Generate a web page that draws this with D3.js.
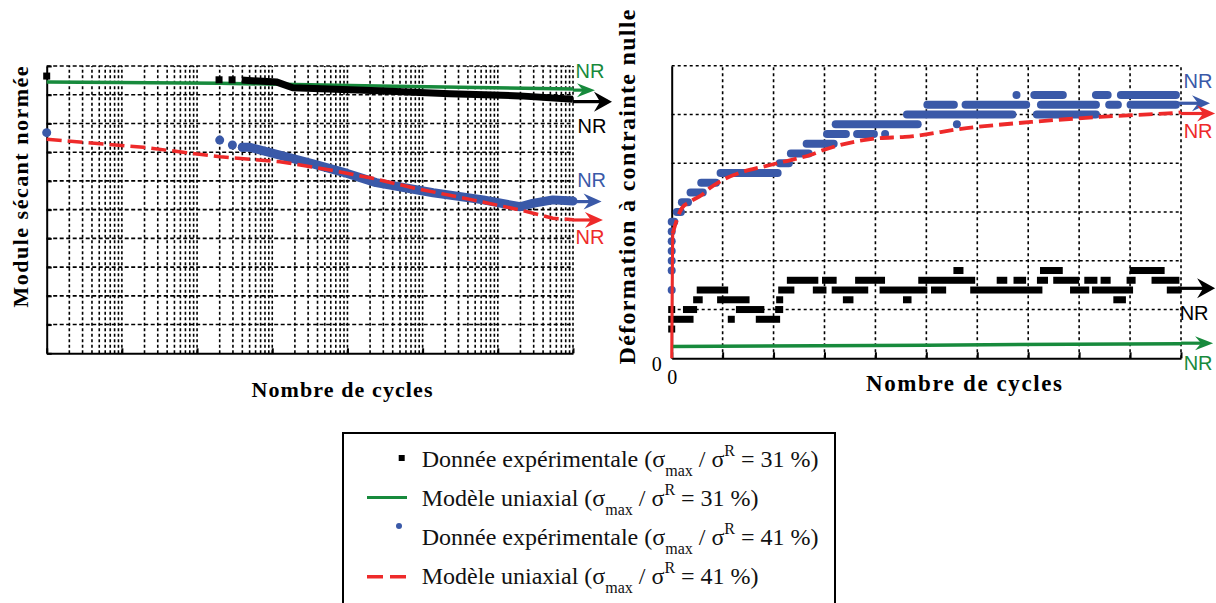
<!DOCTYPE html>
<html><head><meta charset="utf-8">
<script src="https://cdn.jsdelivr.net/npm/d3@7"></script>
<style>body{margin:0;background:#fff;} svg{display:block;}</style>
</head><body>
<script>
// ---------------- DATA ----------------
// Left chart: normalised secant modulus vs number of cycles (log)
const leftGreenCycles = [1, 200, 25700, 1e7];
const leftGreenValues = [0.944, 0.940, 0.930, 0.920];
const leftBlackIsoCycles = [1, 196, 292];
const leftBlackIsoValues = [0.965, 0.952, 0.952];
const leftBlackCycles = [392, 1150, 1880, 25700, 230000, 1.96e6, 1e7];
const leftBlackValues = [0.951, 0.944, 0.924, 0.914, 0.903, 0.896, 0.884];
const leftBlueIsoCycles = [1, 200, 295, 400];
const leftBlueIsoValues = [0.768, 0.742, 0.725, 0.717];
const leftBlueCycles = [400, 505, 1260, 3480, 9700, 24000, 138000, 640000, 1.98e6, 2.9e6, 5.4e6, 1e7];
const leftBlueValues = [0.717, 0.717, 0.690, 0.659, 0.627, 0.594, 0.559, 0.534, 0.510, 0.522, 0.534, 0.530];
const leftRedCycles = [1, 19.3, 203, 1260, 5900, 21700, 81000, 460000, 1.98e6, 5.4e6, 1e7];
const leftRedValues = [0.745, 0.717, 0.684, 0.667, 0.638, 0.609, 0.574, 0.534, 0.499, 0.470, 0.465];
// arrows "NR" (non rompu): [startCycle, tipCycle, value]
const leftGreenArrow = [1e7, 1.96e7, 0.916];
const leftBlackArrow = [1e7, 3.3e7, 0.876];
const leftBlueArrow = [1e7, 2.4e7, 0.528];
const leftRedArrow = [1e7, 2.5e7, 0.464];

// Right chart: residual strain vs number of cycles (linear, arbitrary units)
const rightGreenX = [0, 5, 10];
const rightGreenY = [0.24, 0.27, 0.30];
const rightRedX = [0, 0.01, 0.02, 0.1, 0.2, 0.36, 0.59, 0.75, 1.01, 1.41, 1.8, 2.19, 2.72, 2.98, 4.03, 4.58, 5.79, 7.1, 8.41, 9.85, 10];
const rightRedY = [0, 1.5, 2.56, 2.84, 3.08, 3.21, 3.35, 3.49, 3.66, 3.83, 3.93, 4.03, 4.17, 4.27, 4.51, 4.54, 4.72, 4.85, 4.95, 5.03, 5.04];
// experimental runs of overlapping markers: [startX, endX, level]
const rightBlackRuns = [
  [5.6,5.66,1.8],[7.3,7.61,1.8],[9.06,9.61,1.8],
  [2.33,2.81,1.6],[3.02,3.17,1.6],[3.67,4.12,1.6],[4.91,5.89,1.6],[6.45,6.52,1.6],[6.78,6.89,1.6],[7.24,7.32,1.6],[7.56,7.93,1.6],[8.17,8.29,1.6],[8.49,8.55,1.6],[9.0,9.04,1.6],[9.49,9.9,1.6],
  [0.56,1.04,1.4],[2.16,2.34,1.4],[2.84,2.97,1.4],[3.21,3.79,1.4],[4.15,4.95,1.4],[5.16,5.32,1.4],[5.93,7.21,1.4],[7.89,8.13,1.4],[8.32,8.99,1.4],[9.79,9.94,1.4],
  [0.49,0.54,1.2],[0.96,1.46,1.2],[2.12,2.12,1.2],[3.43,3.5,1.2],[4.61,4.64,1.2],[8.74,8.85,1.2],
  [0,0,1.0],[0.29,0.43,1.0],[1.33,1.75,1.0],[2.1,2.12,1.0],
  [0,0.36,0.8],[1.17,1.17,0.8],[1.72,2.06,0.8],
  [0,0,0.6]
];
const rightBlueRuns = [
  [0,0,1.4],[0,0,1.8],[0,0,2.0],[0,0,2.2],[0,0,2.4],[0,0,2.6],[0,0.05,2.8],
  [0.1,0.18,3.0],[0.2,0.32,3.2],[0.37,0.61,3.4],[0.58,0.87,3.6],[0.96,2.08,3.8],
  [2.12,2.3,4.0],[2.34,2.69,4.2],[2.65,3.18,4.4],
  [3.05,3.42,4.6],[3.64,3.97,4.6],[4.19,4.19,4.6],
  [3.22,4.83,4.8],[5.6,5.6,4.8],
  [4.62,6.69,5.0],[7.17,8.33,5.0],
  [5.02,5.54,5.2],[5.77,6.96,5.2],[7.25,8.33,5.2],[8.59,8.76,5.2],[9.01,9.9,5.2],
  [6.77,6.77,5.4],[7.12,7.68,5.4],[8.33,8.56,5.4],[8.82,9.9,5.4]
];
const rightGreenArrow = [10, 10.63, 0.31];
const rightBlackArrow = [9.94, 10.67, 1.435];
const rightBlueArrow = [9.9, 10.57, 5.23];
const rightRedArrow = [10, 10.67, 5.02];

const rightXTickLabels = ["0"];
const rightYTickLabels = ["0"];
const nrLabel = "NR";
const yTitleLeft = "Module sécant normée";
const yTitleRight = "Déformation à contrainte nulle";
const xTitle = "Nombre de cycles";
const legendLabels = ["Donnée expérimentale", "Modèle uniaxial", "Donnée expérimentale", "Modèle uniaxial"];
const legendRatios = ["31", "31", "41", "41"];
const legendKinds = ["square", "line", "dot", "dash"];

// ---------------- STYLE ----------------
const C = {green:"#178a3c", black:"#000", blue:"#3a59a8", red:"#ee2a2a"};
const serif = "'Liberation Serif','Times New Roman',serif";
const sans = "'Liberation Sans','Noto Sans',Arial,sans-serif";

const svg = d3.select("body").append("svg").attr("width",1216).attr("height",603);

function arrow(g, x1, x2, y, color, hw) {
  g.append("line").attr("x1",x1).attr("x2",x2-11).attr("y1",y).attr("y2",y)
    .attr("stroke",color).attr("stroke-width",3.2);
  g.append("path").attr("d",`M${x2},${y} L${x2-18},${y-hw} L${x2-12},${y} L${x2-18},${y+hw} Z`)
    .attr("fill",color);
}
function nr(g, x, y, color) {
  g.append("text").attr("x",x).attr("y",y).attr("text-anchor","middle")
    .attr("font-family",sans).attr("font-size",20).attr("fill",color).text(nrLabel);
}

// ---------------- LEFT CHART ----------------
const xL = d3.scaleLog().domain([1,1e7]).range([46.7,573]);
const yL = d3.scaleLinear().domain([0,1]).range([353.3,66]);
const gL = svg.append("g");
xL.ticks().forEach(t => {
  if (t === 1) return;
  gL.append("line").attr("x1",xL(t)).attr("x2",xL(t)).attr("y1",yL(0)).attr("y2",yL(1))
    .attr("stroke","#000").attr("stroke-width",1.6).attr("stroke-dasharray","3,2.5");
});
yL.ticks(10).forEach(t => {
  if (t === 0) return;
  gL.append("line").attr("x1",xL(1)).attr("x2",xL(1e7)).attr("y1",yL(t)).attr("y2",yL(t))
    .attr("stroke","#000").attr("stroke-width",1.6).attr("stroke-dasharray","4,2.5");
});
const axL = gL.append("g").attr("transform",`translate(${xL(1)},0)`)
  .call(d3.axisLeft(yL).ticks(10).tickSize(-5).tickSizeOuter(0).tickFormat(""));
const axB = gL.append("g").attr("transform",`translate(0,${yL(0)})`)
  .call(d3.axisBottom(xL).tickValues([1,10,100,1e3,1e4,1e5,1e6,1e7]).tickSize(-5).tickSizeOuter(0).tickFormat(""));
[axL, axB].forEach(a => { a.selectAll("path,line").attr("stroke","#000").attr("stroke-width",2); });

// green model
gL.append("path").attr("d", d3.line().x(d=>xL(d[0])).y(d=>yL(d[1]))(d3.zip(leftGreenCycles,leftGreenValues)))
  .attr("fill","none").attr("stroke",C.green).attr("stroke-width",3.5);
// black experimental
gL.append("path").attr("d", d3.line().x(d=>xL(d[0])).y(d=>yL(d[1]))(d3.zip(leftBlackCycles,leftBlackValues)))
  .attr("fill","none").attr("stroke",C.black).attr("stroke-width",7);
d3.zip(leftBlackIsoCycles,leftBlackIsoValues).forEach(d => {
  gL.append("rect").attr("x",xL(d[0])-3.5).attr("y",yL(d[1])-3.5).attr("width",7).attr("height",7).attr("fill",C.black);
});
// blue experimental
gL.append("path").attr("d", d3.line().x(d=>xL(d[0])).y(d=>yL(d[1]))(d3.zip(leftBlueCycles,leftBlueValues)))
  .attr("fill","none").attr("stroke",C.blue).attr("stroke-width",9).attr("stroke-linecap","round").attr("stroke-linejoin","round");
d3.zip(leftBlueIsoCycles,leftBlueIsoValues).forEach(d => {
  gL.append("circle").attr("cx",xL(d[0])).attr("cy",yL(d[1])).attr("r",4.5).attr("fill",C.blue);
});
// red model
gL.append("path").attr("d", d3.line().x(d=>xL(d[0])).y(d=>yL(d[1]))(d3.zip(leftRedCycles,leftRedValues)))
  .attr("fill","none").attr("stroke",C.red).attr("stroke-width",3.5).attr("stroke-dasharray","15,6");
// arrows + NR
arrow(gL, xL(leftGreenArrow[0]), xL(leftGreenArrow[1]), yL(leftGreenArrow[2]), C.green, 7);
nr(gL, xL(leftGreenArrow[1]) - 5, yL(leftGreenArrow[2]) - 12, C.green);
arrow(gL, xL(leftBlackArrow[0]), xL(leftBlackArrow[1]), yL(leftBlackArrow[2]), C.black, 10);
nr(gL, xL(leftBlackArrow[1]) - 20, yL(leftBlackArrow[2]) + 31, C.black);
arrow(gL, xL(leftBlueArrow[0]), xL(leftBlueArrow[1]), yL(leftBlueArrow[2]), C.blue, 8);
nr(gL, xL(leftBlueArrow[1]) - 10, yL(leftBlueArrow[2]) - 15, C.blue);
arrow(gL, xL(leftRedArrow[0]), xL(leftRedArrow[1]), yL(leftRedArrow[2]), C.red, 8);
nr(gL, xL(leftRedArrow[1]) - 13, yL(leftRedArrow[2]) + 24, C.red);

// titles
gL.append("text").attr("transform",`translate(28,187) rotate(-90)`).attr("text-anchor","middle")
  .attr("font-family",serif).attr("font-weight","bold").attr("font-size",22)
  .attr("textLength",241).attr("lengthAdjust","spacing").text(yTitleLeft);
gL.append("text").attr("x",342).attr("y",397).attr("text-anchor","middle")
  .attr("font-family",serif).attr("font-weight","bold").attr("font-size",22)
  .attr("textLength",181).attr("lengthAdjust","spacing").text(xTitle);

// ---------------- RIGHT CHART ----------------
const xR = d3.scaleLinear().domain([0,10]).range([671.7,1181]);
const yR = d3.scaleLinear().domain([0,6]).range([358.3,65.7]);
const gR = svg.append("g");
xR.ticks(10).forEach(t => {
  if (t === 0) return;
  gR.append("line").attr("x1",xR(t)).attr("x2",xR(t)).attr("y1",yR(0)).attr("y2",yR(6))
    .attr("stroke","#000").attr("stroke-width",1.6).attr("stroke-dasharray","3,3");
});
yR.ticks(6).forEach(t => {
  if (t === 0) return;
  gR.append("line").attr("x1",xR(0)).attr("x2",xR(10)).attr("y1",yR(t)).attr("y2",yR(t))
    .attr("stroke","#000").attr("stroke-width",1.6).attr("stroke-dasharray","3,3");
});
const axRB = gR.append("g").attr("transform",`translate(0,${yR(0)})`)
  .call(d3.axisBottom(xR).ticks(10).tickSize(-6).tickSizeOuter(0).tickPadding(12)
    .tickFormat((d,i) => i < rightXTickLabels.length ? rightXTickLabels[i] : ""));
const axRL = gR.append("g").attr("transform",`translate(${xR(0)},0)`)
  .call(d3.axisLeft(yR).ticks(6).tickSize(0).tickSizeOuter(0).tickPadding(10)
    .tickFormat((d,i) => i < rightYTickLabels.length ? rightYTickLabels[i] : ""));
[axRB, axRL].forEach(a => {
  a.selectAll("path,line").attr("stroke","#000").attr("stroke-width",2);
  a.selectAll("text").attr("font-family",serif).attr("font-size",20).attr("fill","#000");
});
axRL.selectAll("text").attr("dy","0.6em");

// green model
gR.append("path").attr("d", d3.line().x(d=>xR(d[0])).y(d=>yR(d[1]))(d3.zip(rightGreenX,rightGreenY)))
  .attr("fill","none").attr("stroke",C.green).attr("stroke-width",3.5);
// black experimental runs
rightBlackRuns.forEach(r => {
  gR.append("rect").attr("x",xR(r[0])-3.5).attr("y",yR(r[2])-3.5)
    .attr("width",xR(r[1])-xR(r[0])+7).attr("height",7).attr("fill",C.black);
});
const redPts = d3.zip(rightRedX,rightRedY);
// blue experimental runs
rightBlueRuns.forEach(r => {
  gR.append("line").attr("x1",xR(r[0])).attr("x2",xR(r[1])).attr("y1",yR(r[2])).attr("y2",yR(r[2]))
    .attr("stroke",C.blue).attr("stroke-width",8).attr("stroke-linecap","round");
});
// red model (initial rise solid, rest dashed)
gR.append("path").attr("d", d3.line().x(d=>xR(d[0])).y(d=>yR(d[1]))(redPts.slice(0,3)))
  .attr("fill","none").attr("stroke",C.red).attr("stroke-width",3);
gR.append("path").attr("d", d3.line().curve(d3.curveMonotoneX).x(d=>xR(d[0])).y(d=>yR(d[1]))(redPts.slice(2)))
  .attr("fill","none").attr("stroke",C.red).attr("stroke-width",3.8).attr("stroke-dasharray","14,6");

arrow(gR, xR(rightGreenArrow[0]), xR(rightGreenArrow[1]), yR(rightGreenArrow[2]), C.green, 7);
nr(gR, xR(rightGreenArrow[1]) - 15, yR(rightGreenArrow[2]) + 27, C.green);
arrow(gR, xR(rightBlackArrow[0]), xR(rightBlackArrow[1]), yR(rightBlackArrow[2]), C.black, 10);
nr(gR, xR(rightBlackArrow[1]) - 21, yR(rightBlackArrow[2]) + 32, C.black);
arrow(gR, xR(rightBlueArrow[0]), xR(rightBlueArrow[1]), yR(rightBlueArrow[2]), C.blue, 8);
nr(gR, xR(rightBlueArrow[1]) - 12, yR(rightBlueArrow[2]) - 15, C.blue);
arrow(gR, xR(rightRedArrow[0]), xR(rightRedArrow[1]), yR(rightRedArrow[2]), C.red, 8);
nr(gR, xR(rightRedArrow[1]) - 17, yR(rightRedArrow[2]) + 25, C.red);

gR.append("text").attr("transform",`translate(635,187) rotate(-90)`).attr("text-anchor","middle")
  .attr("font-family",serif).attr("font-weight","bold").attr("font-size",24)
  .attr("textLength",355).attr("lengthAdjust","spacing").text(yTitleRight);
gR.append("text").attr("x",964).attr("y",391).attr("text-anchor","middle")
  .attr("font-family",serif).attr("font-weight","bold").attr("font-size",23)
  .attr("textLength",196).attr("lengthAdjust","spacing").text(xTitle);

// ---------------- LEGEND ----------------
const gLeg = svg.append("g");
gLeg.append("rect").attr("x",343).attr("y",433).attr("width",492).attr("height",200)
  .attr("fill","none").attr("stroke","#000").attr("stroke-width",2);
legendLabels.forEach((lab,i) => {
  const by = 466.7 + i*39.2;
  const kind = legendKinds[i];
  if (kind === "square") gLeg.append("rect").attr("x",398.7).attr("y",by-11.7).attr("width",6).attr("height",6).attr("fill",C.black);
  if (kind === "line") gLeg.append("line").attr("x1",367).attr("x2",407).attr("y1",by-8.5).attr("y2",by-8.5).attr("stroke",C.green).attr("stroke-width",3);
  if (kind === "dot") gLeg.append("circle").attr("cx",399).attr("cy",by-19).attr("r",3).attr("fill",C.blue);
  if (kind === "dash") gLeg.append("line").attr("x1",367).attr("x2",407).attr("y1",by-7.5).attr("y2",by-7.5).attr("stroke",C.red).attr("stroke-width",3.5).attr("stroke-dasharray","16,7");
  const t = gLeg.append("text").attr("x",421.7).attr("y",by).attr("font-family",serif).attr("font-size",24).attr("fill","#111");
  t.append("tspan").text(lab + " (σ");
  t.append("tspan").attr("dy",9).attr("font-size",16).text("max");
  t.append("tspan").attr("dy",-9).text(" / σ");
  t.append("tspan").attr("dy",-11).attr("font-size",16).text("R");
  t.append("tspan").attr("dy",11).text(" = " + legendRatios[i] + " %)");
});
</script>
</body></html>
